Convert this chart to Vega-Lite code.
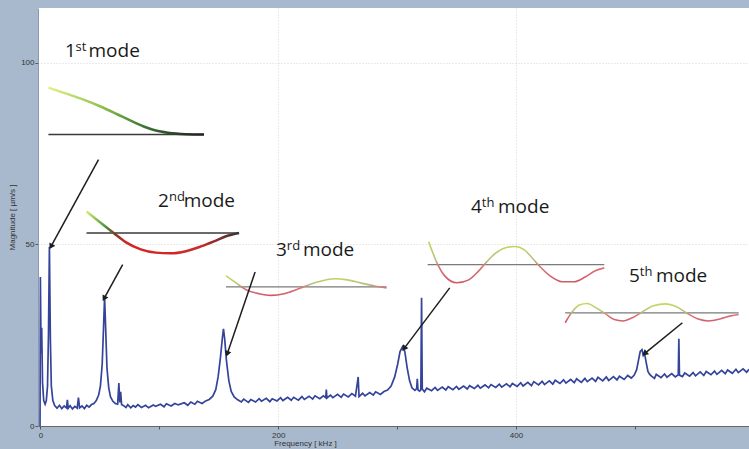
{
  "$schema": "https://vega.github.io/schema/vega-lite/v6.json",
  "autosize": "none",
  "width": 711,
  "height": 418,
  "padding": {"left": 38, "top": 8, "right": 0, "bottom": 23},
  "background": "#a8b9cd",
  "config": {
    "view": {"fill": "white", "stroke": null},
    "axis": {
      "labelFont": "Liberation Sans", "labelFontSize": 8, "labelColor": "#333",
      "titleFont": "Liberation Sans", "titleFontSize": 8, "titleFontWeight": "normal", "titleColor": "#333",
      "tickSize": 3, "tickColor": "#555", "gridColor": "#d4d4d4", "gridDash": [1, 2], "gridWidth": 1
    }
  },
  "datasets": {
    "spec": [
      {"f": -0.3, "m": 0}, {"f": 0, "m": 41}, {"f": 0.6, "m": 20}, {"f": 1.1, "m": 27}, {"f": 1.8, "m": 12},
      {"f": 2.8, "m": 7}, {"f": 4, "m": 6}, {"f": 5, "m": 7}, {"f": 6, "m": 11}, {"f": 6.8, "m": 25},
      {"f": 7.6, "m": 49.3}, {"f": 8.4, "m": 24}, {"f": 9.2, "m": 11}, {"f": 10.5, "m": 7}, {"f": 12, "m": 5.6},
      {"f": 14, "m": 4.9}, {"f": 16, "m": 5.7}, {"f": 18, "m": 4.8}, {"f": 20, "m": 5.5}, {"f": 22, "m": 5.0},
      {"f": 22.7, "m": 7.2}, {"f": 23.4, "m": 4.9}, {"f": 25, "m": 5.6}, {"f": 27, "m": 4.7}, {"f": 29, "m": 5.4},
      {"f": 31, "m": 4.9}, {"f": 32, "m": 7.8}, {"f": 33, "m": 5.0}, {"f": 35, "m": 5.5}, {"f": 37, "m": 4.8},
      {"f": 39, "m": 5.7}, {"f": 41, "m": 5.2}, {"f": 43, "m": 5.9}, {"f": 45, "m": 6.2}, {"f": 47, "m": 7.0},
      {"f": 49, "m": 8.5}, {"f": 50.5, "m": 11}, {"f": 52, "m": 17}, {"f": 53, "m": 26}, {"f": 54, "m": 35.5},
      {"f": 55, "m": 26}, {"f": 56, "m": 16}, {"f": 57.5, "m": 10.5}, {"f": 59, "m": 8}, {"f": 61, "m": 6.8},
      {"f": 63, "m": 6.2}, {"f": 65, "m": 6.0}, {"f": 66, "m": 11.8}, {"f": 66.8, "m": 6.5}, {"f": 67.5, "m": 9.4},
      {"f": 68.3, "m": 5.9}, {"f": 70, "m": 5.6}, {"f": 72, "m": 5.1}, {"f": 73.5, "m": 5.9}, {"f": 76, "m": 5.0},
      {"f": 78, "m": 5.6}, {"f": 80, "m": 5.2}, {"f": 82, "m": 5.9}, {"f": 85, "m": 5.1}, {"f": 88.5, "m": 5.7},
      {"f": 91, "m": 5.0}, {"f": 95, "m": 5.8}, {"f": 97, "m": 5.4}, {"f": 101, "m": 6.0}, {"f": 104, "m": 5.3},
      {"f": 106, "m": 6.1}, {"f": 110, "m": 5.5}, {"f": 113, "m": 6.2}, {"f": 116, "m": 5.8}, {"f": 121, "m": 6.4},
      {"f": 124, "m": 5.7}, {"f": 126.5, "m": 6.6}, {"f": 130, "m": 6.0}, {"f": 132, "m": 6.8}, {"f": 136, "m": 6.2},
      {"f": 139, "m": 6.9}, {"f": 142, "m": 7.3}, {"f": 145, "m": 8.2}, {"f": 147.5, "m": 10}, {"f": 149.5, "m": 13.5},
      {"f": 151.5, "m": 19}, {"f": 153, "m": 24}, {"f": 154, "m": 26.7}, {"f": 155, "m": 24}, {"f": 156.5, "m": 18},
      {"f": 158.5, "m": 12.5}, {"f": 160.5, "m": 9.5}, {"f": 163, "m": 8}, {"f": 166, "m": 7.2}, {"f": 169, "m": 6.6},
      {"f": 171, "m": 7.4}, {"f": 175, "m": 6.5}, {"f": 177, "m": 7.3}, {"f": 181, "m": 6.6}, {"f": 184, "m": 7.5},
      {"f": 186, "m": 6.8}, {"f": 190, "m": 7.6}, {"f": 193, "m": 6.7}, {"f": 195, "m": 7.5}, {"f": 199, "m": 6.9},
      {"f": 202, "m": 7.8}, {"f": 204, "m": 7.0}, {"f": 208, "m": 7.9}, {"f": 211, "m": 7.1}, {"f": 213, "m": 7.9},
      {"f": 217, "m": 7.1}, {"f": 220, "m": 8.1}, {"f": 222, "m": 7.3}, {"f": 226, "m": 8.2}, {"f": 229, "m": 7.4},
      {"f": 231, "m": 8.3}, {"f": 235, "m": 7.5}, {"f": 238, "m": 8.3}, {"f": 240, "m": 7.8}, {"f": 240.5, "m": 10},
      {"f": 241, "m": 7.7}, {"f": 244, "m": 8.5}, {"f": 246, "m": 7.8}, {"f": 250, "m": 8.7}, {"f": 253, "m": 7.9},
      {"f": 255, "m": 8.8}, {"f": 259, "m": 8.0}, {"f": 262, "m": 8.9}, {"f": 265, "m": 8.2}, {"f": 267.3, "m": 13.5},
      {"f": 268, "m": 8.1}, {"f": 271, "m": 9.0}, {"f": 273, "m": 8.3}, {"f": 277, "m": 9.2}, {"f": 280, "m": 8.5},
      {"f": 282, "m": 9.4}, {"f": 286, "m": 8.7}, {"f": 289, "m": 9.5}, {"f": 292, "m": 9.9}, {"f": 295, "m": 11},
      {"f": 298, "m": 13.5}, {"f": 300.5, "m": 17}, {"f": 302.5, "m": 20.5}, {"f": 304.6, "m": 21.8}, {"f": 306.5, "m": 20.5},
      {"f": 308.5, "m": 16}, {"f": 310.5, "m": 12.5}, {"f": 312.5, "m": 10.5}, {"f": 315, "m": 9.8}, {"f": 316.5, "m": 10.3},
      {"f": 317, "m": 13}, {"f": 317.6, "m": 9.9}, {"f": 319, "m": 9.6}, {"f": 320, "m": 10}, {"f": 320.6, "m": 35.3},
      {"f": 321.2, "m": 10.2}, {"f": 323, "m": 9.4}, {"f": 325, "m": 10.4}, {"f": 329, "m": 9.7}, {"f": 332, "m": 10.6},
      {"f": 334, "m": 9.8}, {"f": 338, "m": 10.7}, {"f": 341, "m": 9.9}, {"f": 343, "m": 10.8}, {"f": 347, "m": 10.0},
      {"f": 350, "m": 10.9}, {"f": 352, "m": 10.1}, {"f": 356, "m": 11.0}, {"f": 359, "m": 10.2}, {"f": 361, "m": 11.1},
      {"f": 365, "m": 10.3}, {"f": 368, "m": 11.2}, {"f": 370, "m": 10.4}, {"f": 374, "m": 11.3}, {"f": 377, "m": 10.5},
      {"f": 379, "m": 11.4}, {"f": 383, "m": 10.6}, {"f": 386, "m": 11.5}, {"f": 388, "m": 10.7}, {"f": 392, "m": 11.6},
      {"f": 395, "m": 10.8}, {"f": 397, "m": 11.7}, {"f": 401, "m": 10.9}, {"f": 404, "m": 11.9}, {"f": 406, "m": 11.0},
      {"f": 410, "m": 12.0}, {"f": 413, "m": 11.1}, {"f": 415, "m": 12.2}, {"f": 419, "m": 11.3}, {"f": 422, "m": 12.3},
      {"f": 424, "m": 11.4}, {"f": 428, "m": 12.4}, {"f": 431, "m": 11.5}, {"f": 433, "m": 12.6}, {"f": 437, "m": 11.7},
      {"f": 440, "m": 12.7}, {"f": 442, "m": 11.8}, {"f": 446, "m": 12.8}, {"f": 449, "m": 11.9}, {"f": 451, "m": 13.0},
      {"f": 455, "m": 12.0}, {"f": 458, "m": 13.1}, {"f": 460, "m": 12.2}, {"f": 464, "m": 13.2}, {"f": 467, "m": 12.3},
      {"f": 469, "m": 13.4}, {"f": 473, "m": 12.4}, {"f": 476, "m": 13.5}, {"f": 478, "m": 12.5}, {"f": 482, "m": 13.6},
      {"f": 485, "m": 12.7}, {"f": 487, "m": 13.7}, {"f": 491, "m": 12.8}, {"f": 494, "m": 13.9}, {"f": 497, "m": 13.2},
      {"f": 499.5, "m": 14}, {"f": 501.5, "m": 15.5}, {"f": 503, "m": 18}, {"f": 504.5, "m": 20.5}, {"f": 506, "m": 21},
      {"f": 507, "m": 19.5}, {"f": 508, "m": 20.3}, {"f": 509.5, "m": 17.5}, {"f": 511, "m": 15}, {"f": 512.5, "m": 14.2},
      {"f": 514, "m": 13.7}, {"f": 516.5, "m": 13.1}, {"f": 518, "m": 14.2}, {"f": 522, "m": 13.3}, {"f": 525, "m": 14.3},
      {"f": 527, "m": 13.4}, {"f": 531, "m": 14.4}, {"f": 534, "m": 13.5}, {"f": 536.5, "m": 14.1}, {"f": 537, "m": 24},
      {"f": 537.5, "m": 14.0}, {"f": 540, "m": 13.6}, {"f": 542, "m": 14.6}, {"f": 546, "m": 13.7}, {"f": 549, "m": 14.7},
      {"f": 551, "m": 13.8}, {"f": 555, "m": 14.9}, {"f": 558, "m": 13.9}, {"f": 560, "m": 15.0}, {"f": 564, "m": 14.1},
      {"f": 567, "m": 15.1}, {"f": 569, "m": 14.2}, {"f": 573, "m": 15.3}, {"f": 576, "m": 14.4}, {"f": 578, "m": 15.4},
      {"f": 582, "m": 14.5}, {"f": 585, "m": 15.6}, {"f": 587, "m": 14.7}, {"f": 591, "m": 15.7}, {"f": 594, "m": 14.8},
      {"f": 596, "m": 15.6}
    ],
    "shapes": [
      {"mode": 1, "f": 6.75, "m": 93.1}, {"mode": 1, "f": 21.1, "m": 91.5}, {"mode": 1, "f": 36.3, "m": 89.8},
      {"mode": 1, "f": 50.6, "m": 87.9}, {"mode": 1, "f": 65, "m": 85.7}, {"mode": 1, "f": 75.9, "m": 84.0},
      {"mode": 1, "f": 86.9, "m": 82.4}, {"mode": 1, "f": 97, "m": 81.3}, {"mode": 1, "f": 107.2, "m": 80.7},
      {"mode": 1, "f": 122.4, "m": 80.3}, {"mode": 1, "f": 137.6, "m": 80.2},
      {"mode": 2, "f": 38.8, "m": 59.0}, {"mode": 2, "f": 46.4, "m": 57.0}, {"mode": 2, "f": 54.9, "m": 54.8},
      {"mode": 2, "f": 61.6, "m": 53.1}, {"mode": 2, "f": 71.7, "m": 50.6}, {"mode": 2, "f": 84.4, "m": 48.6},
      {"mode": 2, "f": 97, "m": 47.7}, {"mode": 2, "f": 109.7, "m": 47.5}, {"mode": 2, "f": 122.4, "m": 48.1},
      {"mode": 2, "f": 135, "m": 49.4}, {"mode": 2, "f": 146, "m": 50.8}, {"mode": 2, "f": 156.1, "m": 52.2},
      {"mode": 2, "f": 167.1, "m": 53.1},
      {"mode": 3, "f": 156.1, "m": 41.3}, {"mode": 3, "f": 164.6, "m": 39.4}, {"mode": 3, "f": 173, "m": 37.5},
      {"mode": 3, "f": 184, "m": 36.4}, {"mode": 3, "f": 194.1, "m": 35.95}, {"mode": 3, "f": 205, "m": 36.4},
      {"mode": 3, "f": 215.2, "m": 37.5}, {"mode": 3, "f": 225.3, "m": 38.8}, {"mode": 3, "f": 236.3, "m": 39.9},
      {"mode": 3, "f": 247.3, "m": 40.5}, {"mode": 3, "f": 258.2, "m": 40.2}, {"mode": 3, "f": 270, "m": 39.3},
      {"mode": 3, "f": 280.2, "m": 38.6}, {"mode": 3, "f": 291.1, "m": 38.0},
      {"mode": 4, "f": 326.6, "m": 50.7}, {"mode": 4, "f": 330, "m": 47.7}, {"mode": 4, "f": 334.2, "m": 44.4},
      {"mode": 4, "f": 340.1, "m": 41.3}, {"mode": 4, "f": 350.2, "m": 39.4}, {"mode": 4, "f": 360.3, "m": 40.2},
      {"mode": 4, "f": 367.9, "m": 42.4}, {"mode": 4, "f": 374.7, "m": 44.9}, {"mode": 4, "f": 382.3, "m": 47.4},
      {"mode": 4, "f": 390.7, "m": 49.0}, {"mode": 4, "f": 399.2, "m": 49.4}, {"mode": 4, "f": 406.8, "m": 48.5},
      {"mode": 4, "f": 413.5, "m": 46.3}, {"mode": 4, "f": 420.3, "m": 43.8}, {"mode": 4, "f": 428.7, "m": 41.3},
      {"mode": 4, "f": 438.8, "m": 39.7}, {"mode": 4, "f": 448.9, "m": 39.7}, {"mode": 4, "f": 458.2, "m": 41.0},
      {"mode": 4, "f": 466.7, "m": 42.7}, {"mode": 4, "f": 474.3, "m": 43.5},
      {"mode": 5, "f": 441.4, "m": 28.4}, {"mode": 5, "f": 447.3, "m": 31.4}, {"mode": 5, "f": 453.2, "m": 33.3},
      {"mode": 5, "f": 459.9, "m": 33.7}, {"mode": 5, "f": 467.5, "m": 32.5}, {"mode": 5, "f": 475.1, "m": 30.9},
      {"mode": 5, "f": 482.7, "m": 29.3}, {"mode": 5, "f": 490.3, "m": 28.9}, {"mode": 5, "f": 497.9, "m": 29.8},
      {"mode": 5, "f": 506.3, "m": 31.4}, {"mode": 5, "f": 515.6, "m": 33.1}, {"mode": 5, "f": 525.7, "m": 33.6},
      {"mode": 5, "f": 535, "m": 32.8}, {"mode": 5, "f": 543.5, "m": 31.1}, {"mode": 5, "f": 552.7, "m": 29.5},
      {"mode": 5, "f": 562, "m": 28.9}, {"mode": 5, "f": 572.2, "m": 29.5}, {"mode": 5, "f": 580.6, "m": 30.3},
      {"mode": 5, "f": 587.3, "m": 30.7}
    ],
    "bases": [
      {"mode": 1, "f1": 6.75, "f2": 137.6, "m": 80.2},
      {"mode": 2, "f1": 38.8, "f2": 167.1, "m": 53.1},
      {"mode": 3, "f1": 156.1, "f2": 291.1, "m": 38.3},
      {"mode": 4, "f1": 325.7, "f2": 474.3, "m": 44.4},
      {"mode": 5, "f1": 441.4, "f2": 587.3, "m": 31.1}
    ],
    "arrows": [
      {"id": 1, "f1": 48.9, "m1": 73.3, "f2": 9.3, "m2": 49.6},
      {"id": 2, "f1": 69.2, "m1": 44.4, "f2": 54, "m2": 35.3},
      {"id": 3, "f1": 180.6, "m1": 42.4, "f2": 157.4, "m2": 20.1},
      {"id": 4, "f1": 344.3, "m1": 38.0, "f2": 306.3, "m2": 21.5},
      {"id": 5, "f1": 540, "m1": 28.4, "f2": 508.9, "m2": 20.1}
    ],
    "labels": [
      {"part": "num", "text": "1", "f": 20.7, "m": 101.4},
      {"part": "sup", "text": "st", "f": 29.6, "m": 101.4},
      {"part": "word", "text": "mode", "f": 40.5, "m": 101.4},
      {"part": "num", "text": "2", "f": 98.9, "m": 60.3},
      {"part": "sup", "text": "nd", "f": 108.2, "m": 60.3},
      {"part": "word", "text": "mode", "f": 120.5, "m": 60.3},
      {"part": "num", "text": "3", "f": 198.2, "m": 46.8},
      {"part": "sup", "text": "rd", "f": 207.3, "m": 46.8},
      {"part": "word", "text": "mode", "f": 220.8, "m": 46.8},
      {"part": "num", "text": "4", "f": 362.1, "m": 58.7},
      {"part": "sup", "text": "th", "f": 371.3, "m": 58.7},
      {"part": "word", "text": "mode", "f": 384.9, "m": 58.7},
      {"part": "num", "text": "5", "f": 495, "m": 39.7},
      {"part": "sup", "text": "th", "f": 504.2, "m": 39.7},
      {"part": "word", "text": "mode", "f": 517.7, "m": 39.7}
    ]
  },
  "layer": [
    {
      "data": {"name": "spec"},
      "mark": {"type": "line", "color": "#34449a", "strokeWidth": 1.7, "clip": true},
      "encoding": {
        "x": {"field": "f", "type": "quantitative", "title": "Frequency [ kHz ]",
          "scale": {"domain": [-2, 596], "nice": false, "zero": false},
          "axis": {"values": [0, 100, 200, 300, 400, 500, 600],
            "labelExpr": "datum.value % 200 == 0 ? datum.label : ''",
            "grid": true, "gridOpacity": {"condition": {"test": "datum.value % 200 == 0 && datum.value > 0", "value": 1}, "value": 0},
            "domainColor": "#666", "labelPadding": 2, "titlePadding": 0, "titleX": 267}},
        "y": {"field": "m", "type": "quantitative", "title": "Magnitude [ µm/s ]",
          "scale": {"domain": [0, 115], "nice": false},
          "axis": {"values": [0, 50, 100], "grid": true, "domainColor": "#8a9bb0",
            "labelPadding": 1, "titlePadding": 4}}
      }
    },
    {
      "mark": {"type": "rule", "color": "#4a4a4a", "strokeWidth": 3},
      "encoding": {"y": {"datum": 115, "type": "quantitative", "title": "Magnitude [ µm/s ]"}}
    },
    {
      "data": {"name": "bases"},
      "transform": [{"filter": "datum.mode <= 2"}],
      "mark": {"type": "rule", "color": "#3a3a3a", "strokeWidth": 1.5},
      "encoding": {
        "x": {"field": "f1", "type": "quantitative", "title": "Frequency [ kHz ]"},
        "x2": {"field": "f2"},
        "y": {"field": "m", "type": "quantitative", "title": "Magnitude [ µm/s ]"}
      }
    },
    {
      "data": {"name": "bases"},
      "transform": [{"filter": "datum.mode > 2"}],
      "mark": {"type": "rule", "color": "#7a7a7a", "strokeWidth": 1.3},
      "encoding": {
        "x": {"field": "f1", "type": "quantitative", "title": "Frequency [ kHz ]"},
        "x2": {"field": "f2"},
        "y": {"field": "m", "type": "quantitative", "title": "Magnitude [ µm/s ]"}
      }
    },
    {
      "data": {"name": "shapes"},
      "transform": [{"filter": "datum.mode == 1"}],
      "mark": {"type": "line", "strokeWidth": 2.5, "interpolate": "monotone",
        "stroke": {"gradient": "linear", "x1": 0, "y1": 0, "x2": 1, "y2": 0,
          "stops": [{"offset": 0, "color": "#e4f08a"}, {"offset": 0.35, "color": "#8cc04a"},
                    {"offset": 0.6, "color": "#3c7a34"}, {"offset": 0.85, "color": "#2a3a28"}, {"offset": 1, "color": "#222222"}]}},
      "encoding": {
        "x": {"field": "f", "type": "quantitative", "title": "Frequency [ kHz ]"},
        "y": {"field": "m", "type": "quantitative", "title": "Magnitude [ µm/s ]"}
      }
    },
    {
      "data": {"name": "shapes"},
      "transform": [{"filter": "datum.mode == 2"}],
      "mark": {"type": "line", "strokeWidth": 2.5, "interpolate": "monotone",
        "stroke": {"gradient": "linear", "x1": 0, "y1": 0, "x2": 1, "y2": 0,
          "stops": [{"offset": 0, "color": "#dceb70"}, {"offset": 0.12, "color": "#4c9a3c"},
                    {"offset": 0.19, "color": "#7a3a2a"}, {"offset": 0.26, "color": "#d42424"},
                    {"offset": 0.75, "color": "#cc2a2a"}, {"offset": 0.9, "color": "#6a3030"}, {"offset": 1, "color": "#333333"}]}},
      "encoding": {
        "x": {"field": "f", "type": "quantitative", "title": "Frequency [ kHz ]"},
        "y": {"field": "m", "type": "quantitative", "title": "Magnitude [ µm/s ]"}
      }
    },
    {
      "data": {"name": "shapes"},
      "transform": [{"filter": "datum.mode > 2"}],
      "mark": {"type": "line", "strokeWidth": 1.6, "interpolate": "monotone",
        "stroke": {"gradient": "linear", "x1": 0, "y1": 0, "x2": 0, "y2": 1,
          "stops": [{"offset": 0, "color": "#c4d85a"}, {"offset": 0.45, "color": "#b4c080"},
                    {"offset": 0.58, "color": "#d87878"}, {"offset": 1, "color": "#d0586a"}]}},
      "encoding": {
        "x": {"field": "f", "type": "quantitative", "title": "Frequency [ kHz ]"},
        "y": {"field": "m", "type": "quantitative", "title": "Magnitude [ µm/s ]"},
        "detail": {"field": "mode", "type": "nominal"}
      }
    },
    {
      "data": {"name": "arrows"},
      "mark": {"type": "rule", "color": "#1e1e1e", "strokeWidth": 1.5},
      "encoding": {
        "x": {"field": "f1", "type": "quantitative", "title": "Frequency [ kHz ]"},
        "y": {"field": "m1", "type": "quantitative", "title": "Magnitude [ µm/s ]"},
        "x2": {"field": "f2"},
        "y2": {"field": "m2"}
      }
    },
    {
      "data": {"name": "arrows"},
      "transform": [{"filter": "datum.id == 1"}],
      "mark": {"type": "point", "shape": "triangle", "filled": true, "color": "#1e1e1e", "opacity": 1, "size": 45, "angle": 208.7},
      "encoding": {"x": {"field": "f2", "type": "quantitative", "title": "Frequency [ kHz ]"}, "y": {"field": "m2", "type": "quantitative", "title": "Magnitude [ µm/s ]"}}
    },
    {
      "data": {"name": "arrows"},
      "transform": [{"filter": "datum.id == 2"}],
      "mark": {"type": "point", "shape": "triangle", "filled": true, "color": "#1e1e1e", "opacity": 1, "size": 45, "angle": 208.6},
      "encoding": {"x": {"field": "f2", "type": "quantitative", "title": "Frequency [ kHz ]"}, "y": {"field": "m2", "type": "quantitative", "title": "Magnitude [ µm/s ]"}}
    },
    {
      "data": {"name": "arrows"},
      "transform": [{"filter": "datum.id == 3"}],
      "mark": {"type": "point", "shape": "triangle", "filled": true, "color": "#1e1e1e", "opacity": 1, "size": 45, "angle": 198.4},
      "encoding": {"x": {"field": "f2", "type": "quantitative", "title": "Frequency [ kHz ]"}, "y": {"field": "m2", "type": "quantitative", "title": "Magnitude [ µm/s ]"}}
    },
    {
      "data": {"name": "arrows"},
      "transform": [{"filter": "datum.id == 4"}],
      "mark": {"type": "point", "shape": "triangle", "filled": true, "color": "#1e1e1e", "opacity": 1, "size": 45, "angle": 216.9},
      "encoding": {"x": {"field": "f2", "type": "quantitative", "title": "Frequency [ kHz ]"}, "y": {"field": "m2", "type": "quantitative", "title": "Magnitude [ µm/s ]"}}
    },
    {
      "data": {"name": "arrows"},
      "transform": [{"filter": "datum.id == 5"}],
      "mark": {"type": "point", "shape": "triangle", "filled": true, "color": "#1e1e1e", "opacity": 1, "size": 45, "angle": 230},
      "encoding": {"x": {"field": "f2", "type": "quantitative", "title": "Frequency [ kHz ]"}, "y": {"field": "m2", "type": "quantitative", "title": "Magnitude [ µm/s ]"}}
    },
    {
      "data": {"name": "labels"},
      "transform": [{"filter": "datum.part != 'sup'"}],
      "mark": {"type": "text", "align": "left", "baseline": "alphabetic", "font": "Open Sans", "fontSize": 19, "color": "#1a1a1a"},
      "encoding": {
        "x": {"field": "f", "type": "quantitative", "title": "Frequency [ kHz ]"},
        "y": {"field": "m", "type": "quantitative", "title": "Magnitude [ µm/s ]"},
        "text": {"field": "text"}
      }
    },
    {
      "data": {"name": "labels"},
      "transform": [{"filter": "datum.part == 'sup'"}],
      "mark": {"type": "text", "align": "left", "baseline": "alphabetic", "font": "Open Sans", "fontSize": 13, "dy": -6, "color": "#1a1a1a"},
      "encoding": {
        "x": {"field": "f", "type": "quantitative", "title": "Frequency [ kHz ]"},
        "y": {"field": "m", "type": "quantitative", "title": "Magnitude [ µm/s ]"},
        "text": {"field": "text"}
      }
    }
  ]
}
